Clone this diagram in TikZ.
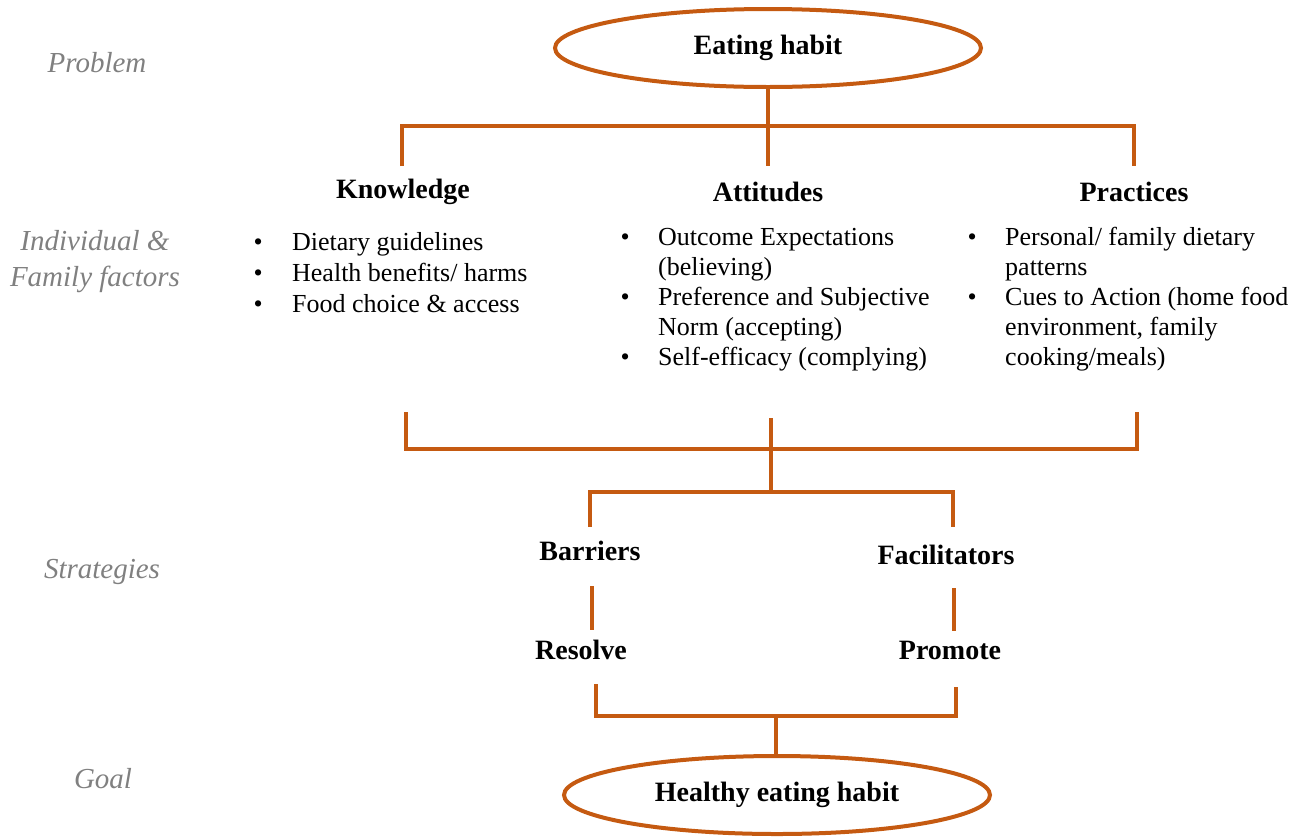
\documentclass[tikz,border=0pt]{standalone}
\usepackage{fontspec}
\setmainfont{Liberation Serif}
\usetikzlibrary{shapes.geometric}
\definecolor{ln}{RGB}{197,90,17}
\definecolor{lab}{RGB}{128,128,128}
\begin{document}
\begin{tikzpicture}[x=1pt,y=-1pt,
  conn/.style={draw=ln,line width=3.5pt},
  oval/.style={ellipse,draw=ln,line width=4pt,minimum width=426pt,minimum height=78pt,inner sep=0pt,font=\fontsize{28}{32}\selectfont\bfseries},
  head/.style={inner sep=0pt,font=\fontsize{28}{32}\selectfont\bfseries},
  body/.style={inner sep=0pt,anchor=base west},
  side/.style={inner sep=0pt,text=lab,align=center,font=\fontsize{29}{36}\selectfont\itshape}]
\useasboundingbox (0,0) rectangle (1308,836);
% left labels
\node[side] (lp) at (97,63) {Problem};
\node[side] (li) at (95,262) {Individual \&\\Family factors};
\node[side] (ls) at (102,572) {Strategies};
\node[side] (lg) at (103,779) {Goal};
% top
\node[oval] (eh) at (768,48) {Eating habit};
\coordinate (j1) at (768,126);
\coordinate (bl) at (402,126);
\coordinate (br) at (1134,126);
\coordinate (kd) at (402,166);
\coordinate (ad) at (768,166);
\coordinate (pd) at (1134,166);
\draw[conn] (eh.south) -- (j1);
\draw[conn] (kd) -- (bl) -- (br) -- (pd);
\draw[conn] (j1) -- (ad);
% headings
\node[head] (kn) at (403,192) {Knowledge};
\node[head] (at) at (768,192) {Attitudes};
\node[head] (pr) at (1134,192) {Practices};
% lists
\node[body,font=\fontsize{26}{31}\selectfont] (kl) at (253.5,250) {\begin{tabular}[t]{@{}p{38.5pt}@{}l@{}}
\textbullet & Dietary guidelines\\
\textbullet & Health benefits/ harms\\
\textbullet & Food choice \& access
\end{tabular}};
\node[body,font=\fontsize{26}{30}\selectfont] (al) at (620.5,245) {\begin{tabular}[t]{@{}p{37.5pt}@{}l@{}}
\textbullet & Outcome Expectations\\
 & (believing)\\
\textbullet & Preference and Subjective\\
 & Norm (accepting)\\
\textbullet & Self-efficacy (complying)
\end{tabular}};
\node[body,font=\fontsize{26}{30}\selectfont] (pl) at (967.5,245) {\begin{tabular}[t]{@{}p{37.5pt}@{}l@{}}
\textbullet & Personal/ family dietary\\
 & patterns\\
\textbullet & Cues to Action (home food\\
 & environment, family\\
 & cooking/meals)
\end{tabular}};
% second bar
\coordinate (ku) at (406,412);
\coordinate (au) at (771,418);
\coordinate (pu) at (1137,412);
\coordinate (k2) at (406,449);
\coordinate (p2) at (1137,449);
\coordinate (j2) at (771,492);
\draw[conn] (ku) -- (k2) -- (p2) -- (pu);
\draw[conn] (au) -- (j2);
\coordinate (b1) at (590,492);
\coordinate (f1) at (953,492);
\coordinate (b2) at (590,527);
\coordinate (f2) at (953,527);
\draw[conn] (b2) -- (b1) -- (f1) -- (f2);
% strategies
\node[head] (ba) at (590,551) {Barriers};
\node[head] (fa) at (946,555) {Facilitators};
\node[head] (re) at (581,650) {Resolve};
\node[head] (po) at (950,650) {Promote};
\coordinate (bt) at (592,586);
\coordinate (bb) at (592,630);
\coordinate (ft) at (954,588);
\coordinate (fb) at (954,631);
\draw[conn] (bt) -- (bb);
\draw[conn] (ft) -- (fb);
% bottom
\coordinate (rt) at (596,684);
\coordinate (r3) at (596,716);
\coordinate (p3) at (956,716);
\coordinate (pt) at (956,687);
\coordinate (j3) at (776,716);
\draw[conn] (rt) -- (r3) -- (p3) -- (pt);
\node[oval] (hh) at (777,795) {Healthy eating habit};
\draw[conn] (j3) -- (j3 |- hh.north);
\end{tikzpicture}
\end{document}
